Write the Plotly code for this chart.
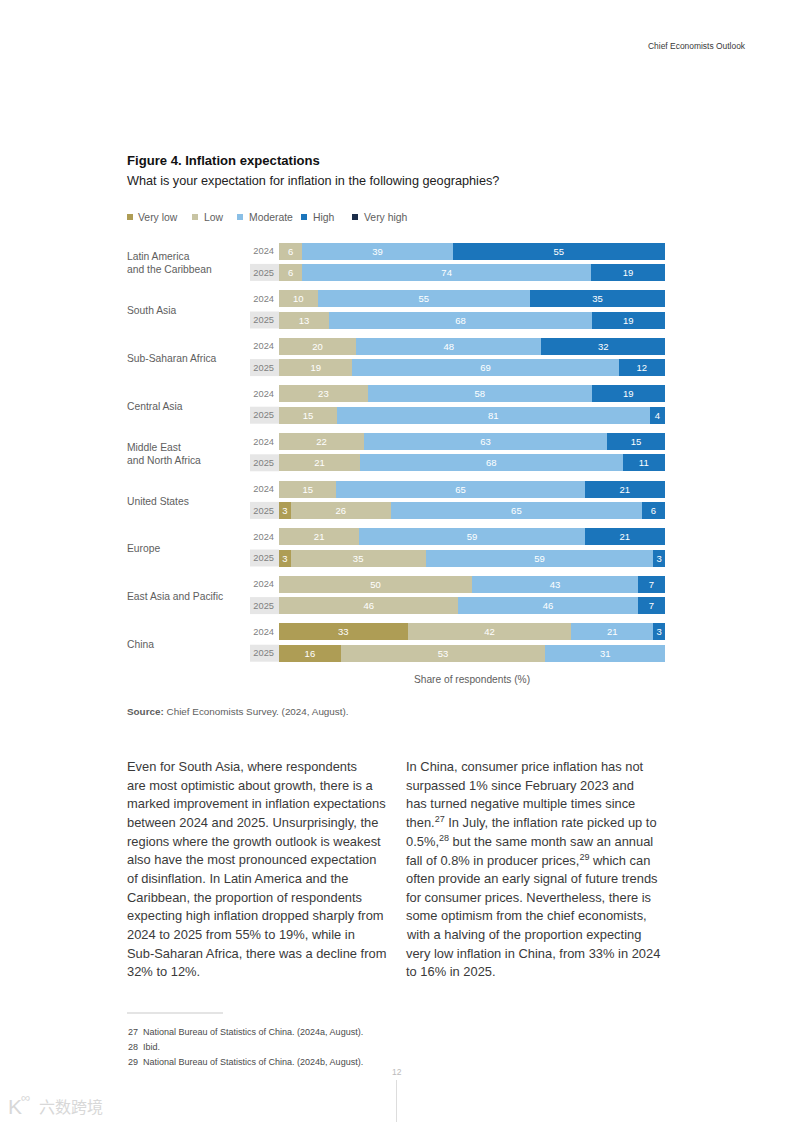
import plotly.graph_objects as go

# ---------- data ----------
regions = ["Latin America<br>and the Caribbean", "South Asia", "Sub-Saharan Africa", "Central Asia",
           "Middle East<br>and North Africa", "United States", "Europe", "East Asia and Pacific", "China"]
years = ["2024", "2025"]
series_names = ["Very low", "Low", "Moderate", "High", "Very high"]
very_low_2024 = [0, 0, 0, 0, 0, 0, 0, 0, 33]
very_low_2025 = [0, 0, 0, 0, 0, 3, 3, 0, 16]
low_2024 = [6, 10, 20, 23, 22, 15, 21, 50, 42]
low_2025 = [6, 13, 19, 15, 21, 26, 35, 46, 53]
moderate_2024 = [39, 55, 48, 58, 63, 65, 59, 43, 21]
moderate_2025 = [74, 68, 69, 81, 68, 65, 59, 46, 31]
high_2024 = [55, 35, 32, 19, 15, 21, 21, 7, 3]
high_2025 = [19, 19, 12, 4, 11, 6, 3, 7, 0]
very_high_2024 = [0, 0, 0, 0, 0, 0, 0, 0, 0]
very_high_2025 = [0, 0, 0, 0, 0, 0, 0, 0, 0]

left_column = [
    "Even for South Asia, where respondents",
    "are most optimistic about growth, there is a",
    "marked improvement in inflation expectations",
    "between 2024 and 2025. Unsurprisingly, the",
    "regions where the growth outlook is weakest",
    "also have the most pronounced expectation",
    "of disinflation. In Latin America and the",
    "Caribbean, the proportion of respondents",
    "expecting high inflation dropped sharply from",
    "2024 to 2025 from 55% to 19%, while in",
    "Sub-Saharan Africa, there was a decline from",
    "32% to 12%.",
]
right_column = [
    "In China, consumer price inflation has not",
    "surpassed 1% since February 2023 and",
    "has turned negative multiple times since",
    "then.<sup>27</sup> In July, the inflation rate picked up to",
    "0.5%,<sup>28</sup> but the same month saw an annual",
    "fall of 0.8% in producer prices,<sup>29</sup> which can",
    "often provide an early signal of future trends",
    "for consumer prices. Nevertheless, there is",
    "some optimism from the chief economists,",
    "with a halving of the proportion expecting",
    "very low inflation in China, from 33% in 2024",
    "to 16% in 2025.",
]
footnotes = ["27  National Bureau of Statistics of China. (2024a, August).",
             "28  Ibid.",
             "29  National Bureau of Statistics of China. (2024b, August)."]

# ---------- style ----------
W, H = 793, 1122
FONT = "Liberation Sans"
colors = ["#AE9D55", "#C8C4A3", "#8ABFE6", "#1B75BB", "#1C2E4A"]
legend_swatch_x = [127, 192, 237, 301, 352]
legend_text_x = [138, 204, 249, 313, 364]
GROUP_STEP, ROW_STEP = 47.6, 21.4
TOP_PX, BOTTOM_PX = 241, 664

px = lambda x: x / W
py = lambda y: 1 - y / H

y_pos = []
for g in range(len(regions)):
    y_pos += [g * GROUP_STEP, g * GROUP_STEP + ROW_STEP]
tick_text = years * len(regions)


def pairs(a, b):
    out = []
    for u, v in zip(a, b):
        out += [u, v]
    return out


all_series = [pairs(very_low_2024, very_low_2025), pairs(low_2024, low_2025),
              pairs(moderate_2024, moderate_2025), pairs(high_2024, high_2025),
              pairs(very_high_2024, very_high_2025)]

fig = go.Figure()
for name, vals, col in zip(series_names, all_series, colors):
    kept = [(y, v) for y, v in zip(y_pos, vals) if v]
    fig.add_trace(go.Bar(
        name=name, orientation="h", y=[k[0] for k in kept], x=[k[1] for k in kept], width=17,
        marker=dict(color=col, line=dict(width=0)),
        text=[str(k[1]) for k in kept], textposition="inside",
        insidetextanchor="middle", textangle=0, constraintext="none",
        textfont=dict(family=FONT, size=9.5, color="#FFFFFF"),
        hoverinfo="skip", showlegend=False,
    ))

annotations, shapes = [], []


def label(x, y, text, size, color="#333333", anchor="left", family=FONT):
    annotations.append(dict(xref="paper", yref="paper", x=px(x), y=py(y), text=text, showarrow=False,
                            xanchor=anchor, yanchor="middle", align=anchor,
                            font=dict(family=family, size=size, color=color),
                            borderpad=0, borderwidth=0))


# header / titles
label(745.5, 46, "Chief Economists Outlook", 8.45, "#3A3A3A", "right")
label(127, 160.5, "<b>Figure 4. Inflation expectations</b>", 13.1, "#111111")
label(127, 180.5, "What is your expectation for inflation in the following geographies?", 12.7, "#222222")

# legend
for name, col, sx, tx in zip(series_names, colors, legend_swatch_x, legend_text_x):
    shapes.append(dict(type="rect", xref="paper", yref="paper", x0=px(sx), x1=px(sx + 6),
                       y0=py(220), y1=py(214), fillcolor=col, line=dict(width=0)))
    label(tx, 217.5, name, 10.4, "#5E5E5E")

# grey year bands behind 2025 labels, region names
for g, region in enumerate(regions):
    y25 = g * GROUP_STEP + ROW_STEP
    shapes.append(dict(type="rect", xref="paper", yref="y", x0=px(250), x1=px(279),
                       y0=y25 - 8.5, y1=y25 + 8.5, fillcolor="#E6E6E6", line=dict(width=0), layer="below"))
    annotations.append(dict(xref="paper", yref="y", x=px(127), y=g * GROUP_STEP + ROW_STEP / 2 + 1.5,
                            text=region, showarrow=False, xanchor="left", yanchor="middle", align="left",
                            borderpad=0, borderwidth=0,
                            font=dict(family=FONT, size=10.3, color="#5E5E5E")))

# source
label(127, 712, "<b>Source:</b> Chief Economists Survey. (2024, August).", 9.9, "#5E5E5E")

# body columns (one annotation per line for the page's leading)
for i, line in enumerate(left_column):
    label(127, 766.5 + i * 18.66, line, 12.9, "#3A3A3A")
for i, line in enumerate(right_column):
    label(405.5, 766.5 + i * 18.66, line, 12.9, "#3A3A3A")

# footnotes
shapes.append(dict(type="line", xref="paper", yref="paper", x0=px(127), x1=px(223), y0=py(1013), y1=py(1013),
                   line=dict(color="#BBBBBB", width=0.8)))
for y, line in zip([1031.5, 1047, 1062], footnotes):
    label(127.5, y, line, 9.0, "#4A4A4A")

# page number and rule
label(396.5, 1072, "12", 8.5, "#BBBBBB", "center")
shapes.append(dict(type="line", xref="paper", yref="paper", x0=px(396.5), x1=px(396.5), y0=py(1080), y1=py(1122),
                   line=dict(color="#DDDDDD", width=1)))

# watermark
label(8, 1106, "K", 21, "#D8D8D8")
label(39, 1105.5, "六数跨境", 16, "#D8D8D8", family="Noto Sans CJK SC")
label(21, 1097, "∞", 13, "#D8D8D8")

fig.update_layout(
    width=W, height=H, autosize=False,
    margin=dict(l=0, r=0, t=0, b=0, pad=0),
    paper_bgcolor="#FFFFFF", plot_bgcolor="#FFFFFF",
    barmode="stack", barnorm="percent",
    annotations=annotations, shapes=shapes, showlegend=False,
    xaxis=dict(domain=[px(279), px(665)], range=[0, 100], showgrid=False, zeroline=False, showticklabels=False,
               ticks="", showline=False, fixedrange=True,
               title=dict(text="Share of respondents (%)", standoff=11,
                          font=dict(family=FONT, size=10.2, color="#5E5E5E"))),
    yaxis=dict(domain=[py(BOTTOM_PX), py(TOP_PX)], range=[BOTTOM_PX - 251, TOP_PX - 251],
               tickmode="array", tickvals=y_pos, ticktext=tick_text, showgrid=False, zeroline=False,
               ticks="", showline=False, fixedrange=True, ticklen=0, ticklabelstandoff=4,
               tickfont=dict(family=FONT, size=9.3, color="#808080")),
)

fig.write_html("out.html", config=dict(displayModeBar=False),
               post_script="document.body.style.margin='0';document.documentElement.style.overflow='hidden';")
